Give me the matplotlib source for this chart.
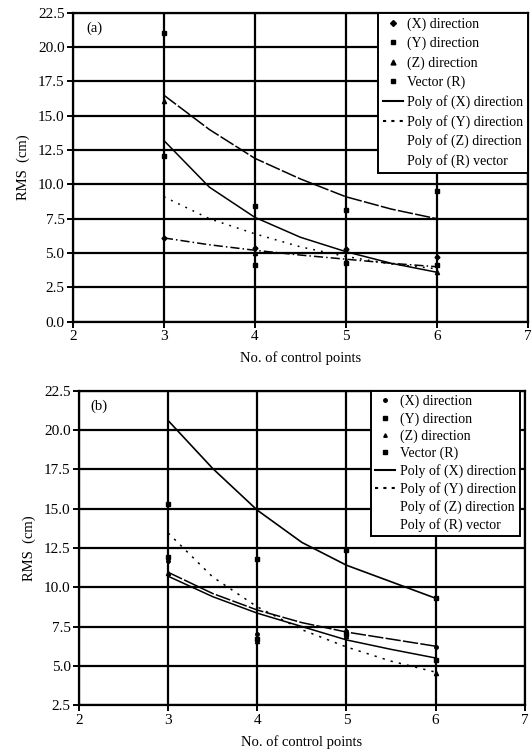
import matplotlib
matplotlib.use("Agg")
import matplotlib.pyplot as plt
from matplotlib.lines import Line2D

plt.rcParams['font.family'] = ['Liberation Serif', 'DejaVu Serif']

# ---------------- data ----------------
x_pts = [3, 4, 5, 6]
curve_x = [3, 3.5, 4, 4.5, 5, 5.5, 6]

# panel (a)
a_x = [6.1, 5.4, 5.3, 4.7]
a_y = [12.1, 4.1, 4.3, 4.1]
a_z = [16.1, 5.0, 4.4, 3.6]
a_r = [21.0, 8.4, 8.1, 9.5]
a_fit1 = [16.5, 14.0, 11.9, 10.4, 9.1, 8.2, 7.5]
a_fit2 = [13.2, 9.8, 7.6, 6.15, 5.1, 4.25, 3.6]
a_fit3 = [9.1, 7.5, 6.4, 5.45, 4.75, 4.2, 3.85]
a_fit4 = [6.1, 5.6, 5.2, 4.85, 4.55, 4.25, 4.0]

# panel (b)
b_x = [11.7, 7.0, 7.2, 6.2]
b_y = [11.9, 6.7, 7.0, 5.4]
b_z = [10.9, 6.6, 6.9, 4.55]
b_r = [15.3, 11.8, 12.4, 9.3]
b_fit1 = [20.6, 17.55, 14.9, 12.85, 11.4, 10.35, 9.3]
b_fit2 = [10.95, 9.6, 8.55, 7.75, 7.15, 6.7, 6.25]
b_fit3 = [10.7, 9.4, 8.35, 7.5, 6.65, 6.05, 5.5]
b_fit4 = [13.45, 10.65, 8.75, 7.3, 6.2, 5.3, 4.6]

a_yticks = [0.0, 2.5, 5.0, 7.5, 10.0, 12.5, 15.0, 17.5, 20.0, 22.5]
b_yticks = [2.5, 5.0, 7.5, 10.0, 12.5, 15.0, 17.5, 20.0, 22.5]
xticks = [2, 3, 4, 5, 6, 7]

legend_labels = ["(X) direction", "(Y) direction", "(Z) direction", "Vector (R)",
                 "Poly of (X) direction", "Poly of (Y) direction",
                 "Poly of (Z) direction", "Poly of (R) vector"]

# ---------------- figure ----------------
fig = plt.figure(figsize=(5.32, 7.55), dpi=100)
ax_a = fig.add_axes([0.137, 0.574, 0.855, 0.409])
ax_b = fig.add_axes([0.1485, 0.066, 0.838, 0.4165])


def style_axes(ax, yticks, ylim):
    ax.set_xlim(2, 7)
    ax.set_ylim(*ylim)
    ax.set_xticks(xticks)
    ax.set_yticks(yticks)
    ax.set_yticklabels([f"{v:.1f}" for v in yticks])
    ax.grid(True, color='black', linewidth=1.6)
    ax.set_axisbelow(True)
    for s in ax.spines.values():
        s.set_linewidth(1.6)
        s.set_color('black')
    ax.tick_params(direction='out', length=4, width=1.4, labelsize=11, colors='black', pad=2)
    ax.set_xlabel("No. of control points", fontsize=10.5, labelpad=6)
    ax.set_ylabel("RMS  (cm)", fontsize=10.5, labelpad=6)


def legend_handles(markers, msizes):
    h = []
    for m, ms in zip(markers, msizes):
        h.append(Line2D([], [], linestyle='none', marker=m, markersize=ms, color='black'))
    h.append(Line2D([], [], linestyle='-', color='black', linewidth=1.5))
    h.append(Line2D([], [], linestyle=(0, (1.5, 2.5)), color='black', linewidth=1.5))
    h.append(Line2D([], [], linestyle='none', color='white'))
    h.append(Line2D([], [], linestyle='none', color='white'))
    return h


# ---- panel (a) ----
ax = ax_a
style_axes(ax, a_yticks, (0, 22.5))
ax.plot(curve_x, a_fit1, color='black', lw=1.1, linestyle=(0, (10, 1.5)))
ax.plot(curve_x, a_fit2, color='black', lw=1.1, linestyle='-')
ax.plot(curve_x, a_fit3, color='black', lw=1.1, linestyle=(0, (1.2, 4)))
ax.plot(curve_x, a_fit4, color='black', lw=1.1, linestyle=(0, (6, 2, 1, 2)))
ax.plot(x_pts, a_x, linestyle='none', marker='D', markersize=2.5, color='black')
ax.plot(x_pts, a_y, linestyle='none', marker='s', markersize=2.8, color='black')
ax.plot(x_pts, a_z, linestyle='none', marker='^', markersize=3, color='black')
ax.plot(x_pts, a_r, linestyle='none', marker='s', markersize=2.5, color='black')
ax.text(0.03, 0.95, "(a)", transform=ax.transAxes, fontsize=10.5, va='center', ha='left')
leg = ax.legend(legend_handles(['D', 's', '^', 's'], [3, 3.5, 3.5, 3]), legend_labels,
                loc='upper right', bbox_to_anchor=(1.0, 1.0), borderaxespad=0,
                fontsize=10, frameon=True, fancybox=False, framealpha=1,
                handlelength=1.4, handletextpad=0.3, labelspacing=0.42,
                borderpad=0.35)
leg.get_frame().set_edgecolor('black')
leg.get_frame().set_linewidth(1.4)

# ---- panel (b) ----
ax = ax_b
style_axes(ax, b_yticks, (2.5, 22.5))
ax.plot(curve_x, b_fit1, color='black', lw=1.2, linestyle='-')
ax.plot(curve_x, b_fit2, color='black', lw=1.1, linestyle=(0, (10, 1.5)))
ax.plot(curve_x, b_fit3, color='black', lw=1.1, linestyle='-')
ax.plot(curve_x, b_fit4, color='black', lw=1.1, linestyle=(0, (1.5, 4)))
ax.plot(x_pts, b_x, linestyle='none', marker='o', markersize=2.5, color='black')
ax.plot(x_pts, b_y, linestyle='none', marker='s', markersize=2.5, color='black')
ax.plot(x_pts, b_z, linestyle='none', marker='^', markersize=3, color='black')
ax.plot(x_pts, b_r, linestyle='none', marker='s', markersize=2.2, color='black')
ax.text(0.025, 0.95, "(b)", transform=ax.transAxes, fontsize=10.5, va='center', ha='left')
leg = ax.legend(legend_handles(['o', 's', '^', 's'], [2.5, 2.5, 2.5, 2.5]), legend_labels,
                loc='upper right', bbox_to_anchor=(0.99, 1.0), borderaxespad=0,
                fontsize=10, frameon=True, fancybox=False, framealpha=1,
                handlelength=1.4, handletextpad=0.4, labelspacing=0.28,
                borderpad=0.3)
leg.get_frame().set_edgecolor('black')
leg.get_frame().set_linewidth(1.4)

fig.savefig("out.png", dpi=100)
